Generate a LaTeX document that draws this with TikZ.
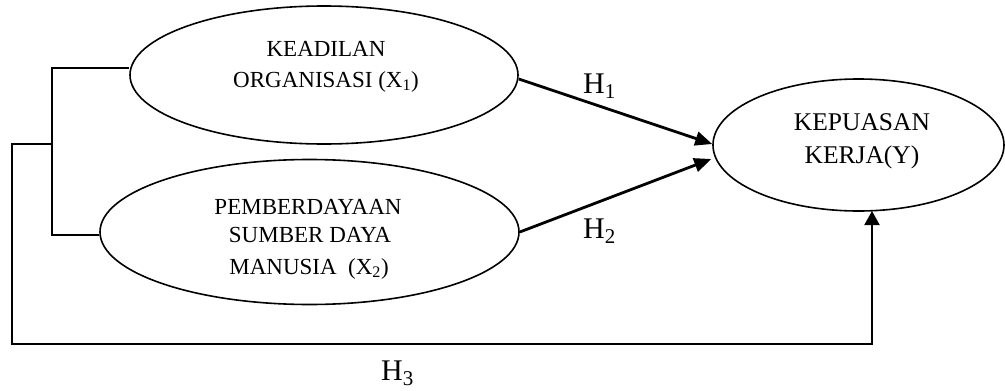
\documentclass[tikz,border=0pt]{standalone}
\usepackage{fontspec}
\setmainfont{Liberation Serif}
\usetikzlibrary{shapes.geometric,arrows.meta}
\tikzset{
  oval/.style={draw, ellipse, line width=1.6pt, inner sep=0pt},
  txtA/.style={anchor=base, inner sep=0pt, font=\fontsize{23}{28}\selectfont},
  txtB/.style={anchor=base, inner sep=0pt, font=\fontsize{25.5}{30}\selectfont},
  hlab/.style={anchor=base west, inner sep=0pt, font=\fontsize{30}{36}\selectfont},
  bracket/.style={draw, line width=1.6pt},
  harrow/.style={draw, line width=2.8pt, -{Triangle[length=17pt,width=14pt]}},
  farrow/.style={draw, line width=2pt, line join=miter, -{Triangle[length=14pt,width=15pt]}}
}
\begin{document}
\begin{tikzpicture}[x=1pt,y=-1pt]
\useasboundingbox (0,0) rectangle (1005,391);
% ellipses
\node[oval, minimum width=388pt, minimum height=138pt] (e1) at (324,75) {};
\node[oval, minimum width=419pt, minimum height=145pt] (e2) at (309.5,232) {};
\node[oval, minimum width=291pt, minimum height=132pt] (e3) at (858.5,145) {};
% texts
\node[txtA] (t1a) at (326,56) {KEADILAN};
\node[txtA] (t1b) at (326,87) {ORGANISASI (X\textsubscript{1})};
\node[txtA] (t2a) at (308,214) {PEMBERDAYAAN};
\node[txtA] (t2b) at (310,242) {SUMBER DAYA};
\node[txtA] (t2c) at (309,274) {MANUSIA\ \ (X\textsubscript{2})};
\node[txtB] (t3a) at (862,130) {KEPUASAN};
\node[txtB] (t3b) at (862,163) {KERJA(Y)};
% hypothesis labels
\node[hlab] (h1) at (583,93) {H\textsubscript{1}};
\node[hlab] (h2) at (583,238) {H\textsubscript{2}};
\node[hlab] (h3) at (381,380) {H\textsubscript{3}};
% connector coordinates
\coordinate (c1) at (52,68);
\coordinate (c2) at (52,235);
\coordinate (c3) at (52,144);
\coordinate (c4) at (12,144);
\coordinate (c5) at (12,344);
\coordinate (c6) at (872,344);
\coordinate (c7) at (872,211);
% bracket
\draw[bracket] ([yshift=7pt]e1.west) -- (c1) -- (c2) -- ([yshift=-3pt]e2.west);
% arrows
\draw[harrow] ([yshift=-4pt]e1.east) -- ([yshift=1pt]e3.west);
\draw[harrow] (e2.east) -- ([yshift=-14pt,xshift=-1pt]e3.west);
\draw[farrow] (c3) -- (c4) -- (c5) -- (c6) -- (c7);
\end{tikzpicture}
\end{document}
